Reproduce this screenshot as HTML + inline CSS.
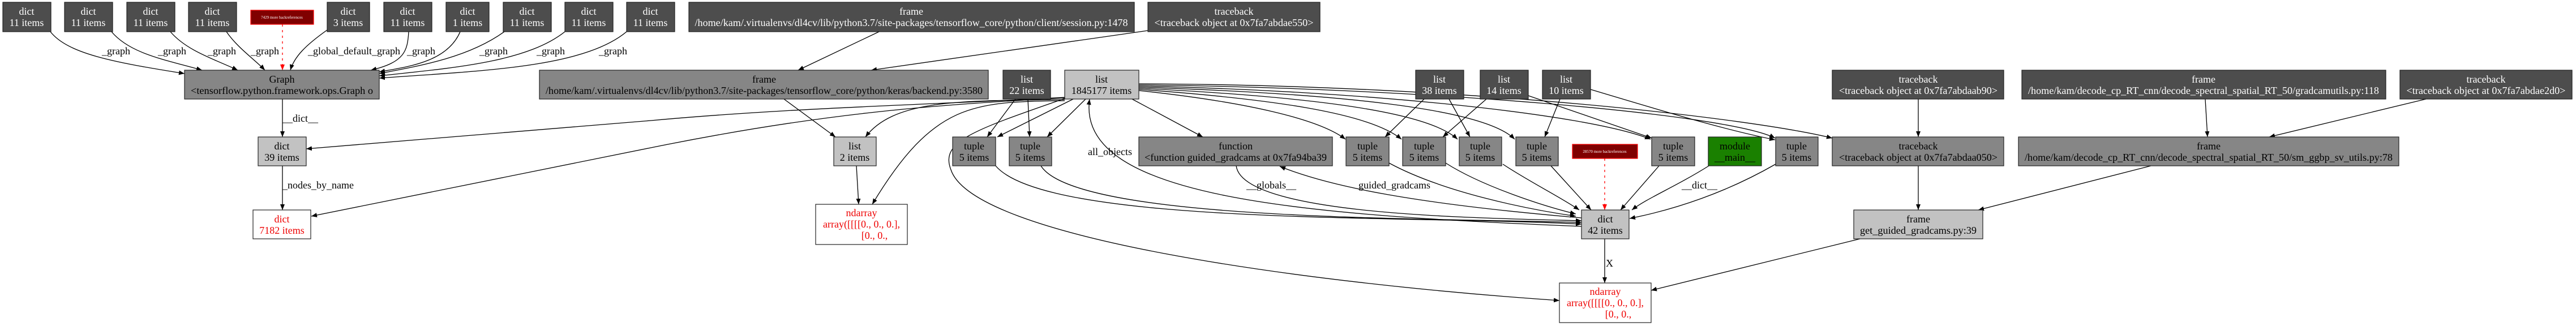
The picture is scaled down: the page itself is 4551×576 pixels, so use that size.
<!DOCTYPE html>
<html><head><meta charset="utf-8"><style>
html,body{margin:0;padding:0;background:#fff;}
svg{display:block;}
text{font-family:"Liberation Serif",serif;font-size:18px;}
.w{fill:#fff}.b{fill:#000}.r{fill:#e00}
</style></head><body>
<svg width="4551" height="576" viewBox="0 0 4551 576" xmlns="http://www.w3.org/2000/svg">
<defs>
<marker id="a" markerWidth="10" markerHeight="8" refX="10" refY="4" orient="auto" markerUnits="userSpaceOnUse"><path d="M0,0 L10,4 L0,8 z" fill="#000"/></marker>
<marker id="ar" markerWidth="10" markerHeight="8" refX="10" refY="4" orient="auto" markerUnits="userSpaceOnUse"><path d="M0,0 L10,4 L0,8 z" fill="#f00"/></marker>
</defs>
<g fill="none" stroke="#000" stroke-width="1.3" marker-end="url(#a)">
<path d="M89,56 C120,95 200,110 326,130"/>
<path d="M197,56 C230,95 290,105 357,124"/>
<path d="M301,56 C330,90 380,105 420,124"/>
<path d="M400,56 C420,85 450,105 468,124"/>
<path d="M578,53 C540,80 520,100 513,124"/>
<path d="M722,56 C720,90 715,110 655,124"/>
<path d="M813,56 C790,110 720,118 670,127"/>
<path d="M891,56 C830,100 750,115 670,130"/>
<path d="M998,56 C930,110 800,120 670,134"/>
<path d="M1107,56 C1030,120 850,125 670,138"/>
<path d="M499,175 L499,242"/>
<path d="M499,293 L499,371"/>
<path d="M1553,56 L1410,124"/>
<path d="M2028,54 L1539,124"/>
<path d="M1385,175 L1476,242"/>
<path d="M1513,293 L1517,361"/>
<path d="M1881,172 C1650,185 1400,190 1150,213 L541,263"/>
<path d="M1881,173 C1650,185 1450,200 1150,261 L550,382"/>
<path d="M1881,176 C1700,178 1580,175 1529,242"/>
<path d="M1881,178 C1720,180 1650,180 1541,361"/>
<path d="M1896,175 L1762,242"/>
<path d="M1918,175 L1850,242"/>
<path d="M2000,175 L2125,242"/>
<path d="M2794,400 C2300,380 1900,350 1925,175"/>
<path d="M1881,174 C1720,230 1660,250 1680,300 C1720,420 2300,500 2755,531"/>
<path d="M1794,175 L1744,242"/>
<path d="M1816,175 L1819,242"/>
<path d="M1759,293 C1850,400 2500,380 2794,396"/>
<path d="M1839,293 C1900,390 2500,385 2794,393"/>
<path d="M2184,293 C2195,380 2600,385 2794,390"/>
<path d="M2794,385 C2500,360 2350,330 2261,294"/>
<path d="M2012,160 C2200,180 2330,210 2377,246"/>
<path d="M2012,158 C2250,175 2420,200 2476,246"/>
<path d="M2012,156 C2300,170 2520,195 2575,246"/>
<path d="M2012,154 C2350,165 2620,190 2676,246"/>
<path d="M2012,152 C2400,160 2800,200 2916,246"/>
<path d="M2012,150 C2500,155 3050,200 3136,244"/>
<path d="M2012,148 C2600,150 3100,210 3237,244"/>
<path d="M2454,288 C2550,340 2700,370 2784,382"/>
<path d="M2554,288 C2620,330 2730,365 2784,378"/>
<path d="M2655,290 C2700,320 2760,350 2790,371"/>
<path d="M2740,293 L2811,371"/>
<path d="M2931,293 L2863,371"/>
<path d="M3019,293 C2960,330 2910,350 2883,371"/>
<path d="M3137,290 C3050,340 2960,370 2879,386"/>
<path d="M2516,175 L2447,242"/>
<path d="M2560,175 L2597,242"/>
<path d="M2626,175 L2549,242"/>
<path d="M2700,169 L2918,244"/>
<path d="M2756,175 L2729,242"/>
<path d="M2810,158 C2950,200 3050,230 3136,247"/>
<path d="M2835,422 L2835,500"/>
<path d="M3286,422 L2917,513"/>
<path d="M3389,175 L3389,242"/>
<path d="M3389,293 L3389,371"/>
<path d="M3896,175 L3900,242"/>
<path d="M4286,175 L4009,242"/>
<path d="M3800,293 L3495,371"/>
</g>
<g fill="none" stroke="#f00" stroke-width="1.3" stroke-dasharray="4,6" marker-end="url(#ar)">
<path d="M499,43 L499,124"/>
<path d="M2835,280 L2835,371"/>
</g>
<!-- edge labels -->
<g class="b">
<text x="180" y="96">_graph</text><text x="279" y="96">_graph</text><text x="367" y="96">_graph</text><text x="443" y="96">_graph</text>
<text x="544" y="96">_global_default_graph</text><text x="719" y="96">_graph</text><text x="847" y="96">_graph</text><text x="948" y="96">_graph</text><text x="1058" y="96">_graph</text>
<text x="499" y="215">__dict__</text>
<text x="499" y="333">_nodes_by_name</text>
<text x="1922" y="274">all_objects</text>
<text x="2202" y="333">__globals__</text>
<text x="2400" y="333">guided_gradcams</text>
<text x="2971" y="333">__dict__</text>
<text x="2837" y="471">X</text>
</g>
<!-- nodes -->
<g stroke="#222" stroke-width="1.2">
<g fill="#4d4d4d">
<rect x="5" y="4" width="85" height="52"/><rect x="114" y="4" width="85" height="52"/><rect x="224" y="4" width="85" height="52"/><rect x="333" y="4" width="85" height="52"/>
<rect x="578" y="4" width="75" height="52"/><rect x="678" y="4" width="85" height="52"/><rect x="788" y="4" width="76" height="52"/><rect x="889" y="4" width="85" height="52"/><rect x="998" y="4" width="85" height="52"/><rect x="1107" y="4" width="85" height="52"/>
<rect x="1217" y="4" width="787" height="52"/><rect x="2028" y="4" width="304" height="52"/>
<rect x="1772" y="124" width="84" height="51"/><rect x="2501" y="124" width="85" height="51"/><rect x="2615" y="124" width="85" height="51"/><rect x="2725" y="124" width="85" height="51"/>
<rect x="3237" y="124" width="303" height="51"/><rect x="3572" y="124" width="643" height="51"/><rect x="4240" y="124" width="304" height="51"/>
</g>
<g fill="#868686">
<rect x="326" y="124" width="344" height="51"/><rect x="953" y="124" width="793" height="51"/>
<rect x="1683" y="242" width="76" height="51"/><rect x="1783" y="242" width="75" height="51"/><rect x="2012" y="242" width="342" height="51"/>
<rect x="2378" y="242" width="76" height="51"/><rect x="2478" y="242" width="76" height="51"/><rect x="2578" y="242" width="75" height="51"/><rect x="2678" y="242" width="75" height="51"/>
<rect x="2918" y="242" width="76" height="51"/><rect x="3137" y="242" width="75" height="51"/><rect x="3237" y="242" width="303" height="51"/><rect x="3566" y="242" width="672" height="51"/>
</g>
<g fill="#c2c2c2">
<rect x="1881" y="124" width="131" height="51"/><rect x="456" y="242" width="85" height="51"/><rect x="1473" y="242" width="75" height="51"/>
<rect x="2794" y="371" width="84" height="51"/><rect x="3275" y="371" width="228" height="51"/>
</g>
<rect x="3018" y="242" width="94" height="51" fill="#1a8000"/>
<g fill="#fff"><rect x="447" y="371" width="102" height="51"/><rect x="1441" y="361" width="162" height="71"/><rect x="2755" y="500" width="162" height="70"/></g>
<g fill="#800000" stroke="#f00"><rect x="443" y="18" width="111" height="25"/><rect x="2778" y="255" width="115" height="25"/></g>
</g>
<g text-anchor="middle">
<g class="w">
<text x="47" y="26">dict</text><text x="47" y="46">11 items</text>
<text x="156" y="26">dict</text><text x="156" y="46">11 items</text>
<text x="266" y="26">dict</text><text x="266" y="46">11 items</text>
<text x="375" y="26">dict</text><text x="375" y="46">11 items</text>
<text x="615" y="26">dict</text><text x="615" y="46">3 items</text>
<text x="720" y="26">dict</text><text x="720" y="46">11 items</text>
<text x="826" y="26">dict</text><text x="826" y="46">1 items</text>
<text x="931" y="26">dict</text><text x="931" y="46">11 items</text>
<text x="1040" y="26">dict</text><text x="1040" y="46">11 items</text>
<text x="1149" y="26">dict</text><text x="1149" y="46">11 items</text>
<text x="1610" y="26">frame</text><text x="1610" y="46" textLength="765" lengthAdjust="spacingAndGlyphs">/home/kam/.virtualenvs/dl4cv/lib/python3.7/site-packages/tensorflow_core/python/client/session.py:1478</text>
<text x="2180" y="26">traceback</text><text x="2180" y="46" textLength="281" lengthAdjust="spacingAndGlyphs">&lt;traceback object at 0x7fa7abdae550&gt;</text>
<text x="1814" y="146">list</text><text x="1814" y="166">22 items</text>
<text x="2543" y="146">list</text><text x="2543" y="166">38 items</text>
<text x="2657" y="146">list</text><text x="2657" y="166">14 items</text>
<text x="2767" y="146">list</text><text x="2767" y="166">10 items</text>
<text x="3389" y="146">traceback</text><text x="3389" y="166" textLength="280" lengthAdjust="spacingAndGlyphs">&lt;traceback object at 0x7fa7abdaab90&gt;</text>
<text x="3893" y="146">frame</text><text x="3893" y="166" textLength="620" lengthAdjust="spacingAndGlyphs">/home/kam/decode_cp_RT_cnn/decode_spectral_spatial_RT_50/gradcamutils.py:118</text>
<text x="4392" y="146">traceback</text><text x="4392" y="166" textLength="281" lengthAdjust="spacingAndGlyphs">&lt;traceback object at 0x7fa7abdae2d0&gt;</text>
<text x="498" y="33" style="font-size:7px">7429 more backreferences</text>
<text x="2835" y="270" style="font-size:7px">28570 more backreferences</text>
</g>
<g class="b">
<text x="498" y="146">Graph</text><text x="498" y="166" textLength="322" lengthAdjust="spacingAndGlyphs">&lt;tensorflow.python.framework.ops.Graph o</text>
<text x="1350" y="146">frame</text><text x="1350" y="166" textLength="772" lengthAdjust="spacingAndGlyphs">/home/kam/.virtualenvs/dl4cv/lib/python3.7/site-packages/tensorflow_core/python/keras/backend.py:3580</text>
<text x="1946" y="146">list</text><text x="1946" y="166">1845177 items</text>
<text x="498" y="264">dict</text><text x="498" y="284">39 items</text>
<text x="1510" y="264">list</text><text x="1510" y="284">2 items</text>
<text x="1721" y="264">tuple</text><text x="1721" y="284">5 items</text>
<text x="1820" y="264">tuple</text><text x="1820" y="284">5 items</text>
<text x="2183" y="264">function</text><text x="2183" y="284" textLength="322" lengthAdjust="spacingAndGlyphs">&lt;function guided_gradcams at 0x7fa94ba39</text>
<text x="2416" y="264">tuple</text><text x="2416" y="284">5 items</text>
<text x="2516" y="264">tuple</text><text x="2516" y="284">5 items</text>
<text x="2615" y="264">tuple</text><text x="2615" y="284">5 items</text>
<text x="2715" y="264">tuple</text><text x="2715" y="284">5 items</text>
<text x="2956" y="264">tuple</text><text x="2956" y="284">5 items</text>
<text x="3065" y="264">module</text><text x="3065" y="284">__main__</text>
<text x="3174" y="264">tuple</text><text x="3174" y="284">5 items</text>
<text x="3389" y="264">traceback</text><text x="3389" y="284" textLength="280" lengthAdjust="spacingAndGlyphs">&lt;traceback object at 0x7fa7abdaa050&gt;</text>
<text x="3902" y="264">frame</text><text x="3902" y="284" textLength="650" lengthAdjust="spacingAndGlyphs">/home/kam/decode_cp_RT_cnn/decode_spectral_spatial_RT_50/sm_ggbp_sv_utils.py:78</text>
<text x="2836" y="393">dict</text><text x="2836" y="413">42 items</text>
<text x="3389" y="393">frame</text><text x="3389" y="413" textLength="206" lengthAdjust="spacingAndGlyphs">get_guided_gradcams.py:39</text>
</g>
<g class="r">
<text x="498" y="393">dict</text><text x="498" y="413">7182 items</text>
<text x="1522" y="382">ndarray</text><text x="1522" y="402">array([[[[0., 0., 0.],</text><text x="1545" y="422">[0., 0.,</text>
<text x="2836" y="521">ndarray</text><text x="2836" y="541">array([[[[0., 0., 0.],</text><text x="2859" y="561">[0., 0.,</text>
</g>
</g>
</svg>
</body></html>
